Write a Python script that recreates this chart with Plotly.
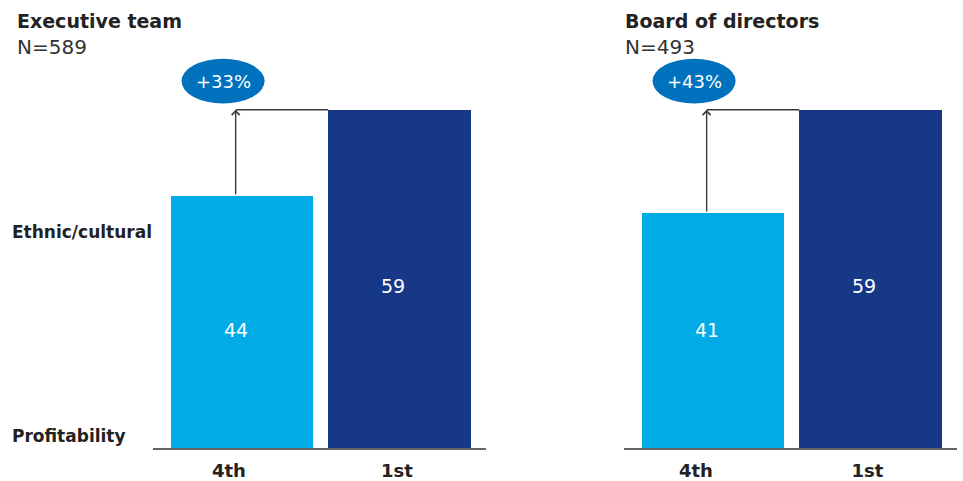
import plotly.graph_objects as go

# ---- data ----
categories = ["4th", "1st"]
exec_values = [44, 59]
board_values = [41, 59]
panel_titles = ["Executive team", "Board of directors"]
panel_n = ["N=589", "N=493"]
uplift_labels = ["+33%", "+43%"]
side_labels_top = "Ethnic/cultural"
side_labels_bottom = "Profitability"

LIGHT = "#00ABE6"
DARK = "#163887"
OVAL = "#0071BC"
TXT = "#222222"
FONT = "DejaVu Sans"

W, H = 963, 481
fig = go.Figure()

panels = [
    dict(values=exec_values, xa="x", ya="y", dom=[153 / W, 486 / W],
         tickpos=[-0.083, 0.984], vshift=[-8, -7]),
    dict(values=board_values, xa="x2", ya="y2", dom=[624 / W, 957 / W],
         tickpos=[-0.108, 0.981], vshift=[1, -7]),
]

XR = [-0.565, 1.55]
BAR_W = 0.904
YR = [0, 75]
YDOM = [1 - 453 / H, 1 - 18.2 / H]

shapes = []
annotations = []
for i, p in enumerate(panels):
    vals = p["values"]
    xref = p["xa"]
    yref = p["ya"]
    fig.add_trace(go.Bar(
        x=[0, 1], y=vals, width=BAR_W,
        marker=dict(color=[LIGHT, DARK], line=dict(width=0)),
        xaxis=xref, yaxis=yref, showlegend=False, hoverinfo="skip",
    ))
    # value labels inside bars
    for j, v in enumerate(vals):
        annotations.append(dict(
            x=j, y=v / 2, xref=xref, yref=yref, text=str(v), showarrow=False,
            xshift=-6, yshift=p["vshift"][j],
            font=dict(color="white", size=19, family=FONT),
        ))
    ax_x = -0.04
    # arrow from top of lower bar up to level of higher bar
    annotations.append(dict(
        x=ax_x, y=vals[1], ax=ax_x, ay=vals[0], xref=xref, yref=yref,
        axref=xref, ayref=yref, text="", showarrow=True,
        arrowhead=4, arrowsize=1.1, arrowwidth=1.4, arrowcolor="#3a3a3a",
    ))
    # horizontal connector at level of higher bar
    shapes.append(dict(
        type="line", xref=xref, yref=yref, x0=ax_x, x1=1 - BAR_W / 2,
        y0=vals[1], y1=vals[1], line=dict(color="#3a3a3a", width=1.4),
    ))
    # oval with uplift label
    cx = ax_x - 0.08
    cy = vals[1] + 5.0
    shapes.append(dict(
        type="circle", xref=xref, yref=yref,
        x0=cx - 0.264, x1=cx + 0.264, y0=cy - 3.9, y1=cy + 3.9,
        fillcolor=OVAL, line=dict(width=0),
    ))
    annotations.append(dict(
        x=cx, y=cy, xref=xref, yref=yref, text=uplift_labels[i],
        showarrow=False, font=dict(color="white", size=18, family=FONT),
    ))
    # titles
    x0 = 15 / W if i == 0 else 623 / W
    annotations.append(dict(
        x=x0, y=1 - 21 / H, xref="paper", yref="paper", xanchor="left",
        yanchor="middle", text="<b>" + panel_titles[i] + "</b>", showarrow=False,
        font=dict(color=TXT, size=19, family=FONT),
    ))
    annotations.append(dict(
        x=x0, y=1 - 47 / H, xref="paper", yref="paper", xanchor="left",
        yanchor="middle", text=panel_n[i], showarrow=False,
        font=dict(color="#333333", size=20, family=FONT),
    ))

annotations.append(dict(
    x=10 / W, y=1 - 234 / H, xref="paper", yref="paper", xanchor="left",
    yanchor="middle", text="<b>" + side_labels_top + "</b>", showarrow=False,
    font=dict(color=TXT, size=17, family=FONT),
))
annotations.append(dict(
    x=10 / W, y=1 - 441 / H, xref="paper", yref="paper", xanchor="left",
    yanchor="middle", text="<b>" + side_labels_bottom + "</b>", showarrow=False,
    font=dict(color=TXT, size=17, family=FONT),
))

xaxis_common = dict(
    range=XR, ticktext=["<b>" + c + "</b>" for c in categories],
    tickfont=dict(size=18, color=TXT, family=FONT), showgrid=False,
    zeroline=False, showline=True, linecolor="#666666", linewidth=2,
    ticks="outside", ticklen=5, tickcolor="rgba(0,0,0,0)", fixedrange=True,
)
yaxis_common = dict(range=YR, domain=YDOM, visible=False, showgrid=False,
                    zeroline=False, fixedrange=True)

fig.update_layout(
    width=W, height=H, margin=dict(l=0, r=0, t=0, b=0),
    paper_bgcolor="white", plot_bgcolor="rgba(0,0,0,0)",
    xaxis=dict(domain=panels[0]["dom"], anchor="y",
               tickvals=panels[0]["tickpos"], **xaxis_common),
    xaxis2=dict(domain=panels[1]["dom"], anchor="y2",
                tickvals=panels[1]["tickpos"], **xaxis_common),
    yaxis=dict(anchor="x", **yaxis_common),
    yaxis2=dict(anchor="x2", **yaxis_common),
    shapes=shapes, annotations=annotations, bargap=0,
    font=dict(family=FONT),
)

fig.write_html(
    "out.html",
    config={"displayModeBar": False},
    post_script="document.body.style.margin='0px';document.body.style.overflow='hidden';",
)
